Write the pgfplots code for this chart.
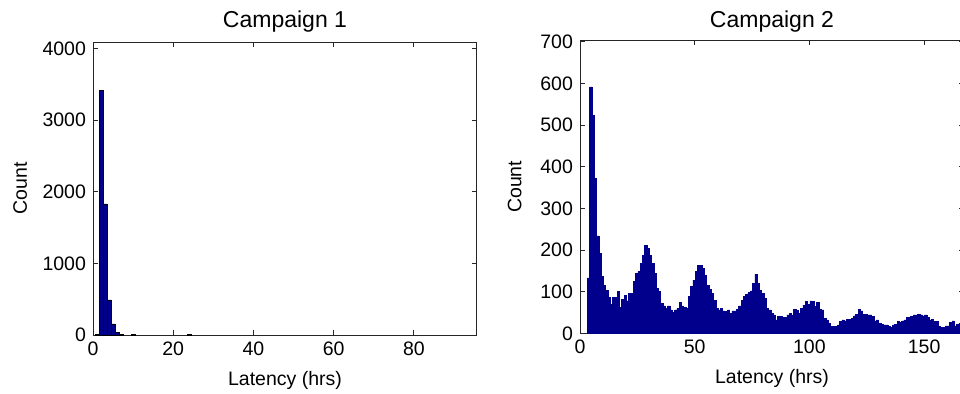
\documentclass[border=0pt]{standalone}
\usepackage{pgfplots}
\pgfplotsset{compat=1.18}
\usepackage{fontspec}
\setmainfont{Liberation Sans}
\definecolor{histblue}{RGB}{0,0,140}
\pgfplotstableread{
x y
3.7 133
4.7 592
5.7 524
6.7 373
7.7 234
8.7 192
9.7 136
10.7 116
11.7 104
12.7 86
13.7 70
14.7 86
15.7 86
16.7 100
17.7 62
18.7 82
19.7 92
20.7 78
21.7 95
22.7 95
23.7 125
24.7 143
25.7 148
26.7 168
27.7 188
28.7 212
29.7 204
30.7 188
31.7 168
32.7 144
33.7 108
34.7 100
35.7 72
36.7 66
37.7 60
38.7 66
39.7 56
40.7 50
41.7 56
42.7 60
43.7 74
44.7 66
45.7 62
46.7 60
47.7 88
48.7 112
49.7 128
50.7 148
51.7 164
52.7 164
53.7 156
54.7 140
55.7 116
56.7 106
57.7 96
58.7 80
59.7 60
60.7 56
61.7 60
62.7 54
63.7 52
64.7 56
65.7 48
66.7 54
67.7 54
68.7 58
69.7 66
70.7 80
71.7 88
72.7 94
73.7 98
74.7 102
75.7 120
76.7 142
77.7 120
78.7 104
79.7 96
80.7 84
81.7 60
82.7 56
83.7 48
84.7 44
85.7 32
86.7 40
87.7 40
88.7 38
89.7 38
90.7 44
91.7 48
92.7 44
93.7 58
94.7 55
95.7 48
96.7 60
97.7 68
98.7 76
99.7 70
100.7 78
101.7 76
102.7 64
103.7 74
104.7 58
105.7 56
106.7 36
107.7 32
108.7 24
109.7 16
110.7 16
111.7 16
112.7 20
113.7 28
114.7 32
115.7 30
116.7 34
117.7 34
118.7 36
119.7 42
120.7 46
121.7 58
122.7 54
123.7 46
124.7 46
125.7 44
126.7 44
127.7 40
128.7 30
129.7 32
130.7 24
131.7 22
132.7 20
133.7 20
134.7 16
135.7 14
136.7 20
137.7 22
138.7 28
139.7 26
140.7 30
141.7 32
142.7 38
143.7 38
144.7 40
145.7 44
146.7 44
147.7 46
148.7 44
149.7 42
150.7 44
151.7 38
152.7 32
153.7 34
154.7 28
155.7 28
156.7 16
157.7 14
158.7 14
159.7 18
160.7 18
161.7 26
162.7 30
163.7 18
164.7 22
165.7 24
166.7 32
}\campaigntwo
\begin{document}
\begin{tikzpicture}
\pgfplotsset{
  every axis/.append style={
    scale only axis, width=192pt, height=146.5pt,
    anchor=south west,
    tick label style={font=\fontsize{9.75}{11}\selectfont},
    label style={font=\fontsize{9.75}{11}\selectfont},
    title style={font=\fontsize{11.5}{13}\selectfont, at={(axis description cs:0.5,1)}, anchor=base},
    /pgf/number format/assume math mode=true,
    /pgf/number format/1000 sep={},
    scaled ticks=false,
    tick align=inside,
    major tick length=2.5pt,
    axis line style={line width=0.5pt, black!85},
    tick style={black!85, line width=0.5pt},
    ymin=0,
  },
}
\begin{axis}[at={(46.5pt,29pt)},
  xmin=0, xmax=95.7, ymax=4090,
  xtick={0,20,40,60,80}, ytick={0,1000,2000,3000,4000},
  title={Campaign 1},
  title style={yshift=1.5pt},
  xlabel={Latency (hrs)}, ylabel={Count},
  xlabel style={at={(axis description cs:0.5,-0.154)}, anchor=center},
  ylabel style={at={(axis description cs:-0.19,0.5)}, anchor=center},
]
\addplot[ybar, bar width=1, fill=histblue, draw=black, line width=0.4pt] coordinates {
(1,14) (2,3420) (3,1830) (4,490) (5,155) (6,40) (7,10) (10,6) (24,7)};
\end{axis}
\begin{axis}[at={(290pt,29.85pt)},
  xmin=0, xmax=167.4, ymax=704,
  xtick={0,50,100,150}, ytick={0,100,...,700},
  title={Campaign 2},
  title style={yshift=0.5pt},
  xlabel={Latency (hrs)}, ylabel={Count},
  xlabel style={at={(axis description cs:0.5,-0.154)}, anchor=center},
  ylabel style={at={(axis description cs:-0.17,0.5)}, anchor=center},
]
\addplot[ybar, bar width=1, fill=histblue, draw=histblue, line width=0.3pt] table[x=x,y=y] {\campaigntwo};
\end{axis}
\pgfresetboundingbox
\path[use as bounding box] (0pt,0pt) rectangle (480pt,196.5pt);
\end{tikzpicture}
\end{document}
